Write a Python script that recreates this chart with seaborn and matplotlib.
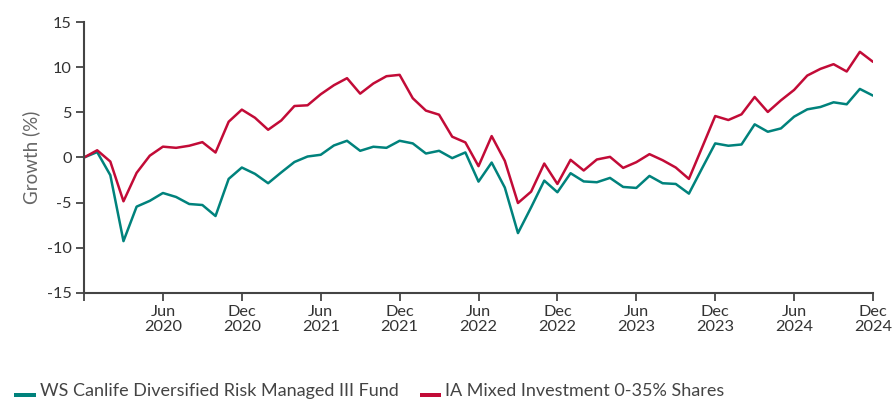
import matplotlib
matplotlib.use("Agg")
import matplotlib.pyplot as plt
import seaborn as sns
import pandas as pd
import numpy as np
from matplotlib.lines import Line2D
from matplotlib.patches import Rectangle
from matplotlib.legend_handler import HandlerBase

months = pd.date_range("2019-12-01", "2024-12-01", freq="MS")

fund_name = "WS Canlife Diversified Risk Managed III Fund"
sector_name = "IA Mixed Investment 0-35% Shares"

fund = [0, 0.6, -1.96, -9.26, -5.44, -4.8, -3.93, -4.37, -5.15, -5.26, -6.48, -2.37, -1.11,
        -1.81, -2.85, -1.65, -0.5, 0.11, 0.3, 1.33, 1.85, 0.74, 1.19, 1.07, 1.85,
        1.56, 0.44, 0.74, -0.07, 0.56, -2.67, -0.56, -3.33, -8.37, -5.52, -2.56, -3.85,
        -1.74, -2.65, -2.74, -2.26, -3.26, -3.37, -2.04, -2.85, -2.93, -4.0, -1.2, 1.56,
        1.3, 1.44, 3.67, 2.85, 3.22, 4.52, 5.33, 5.59, 6.11, 5.89, 7.59, 6.85]

sector = [0, 0.8, -0.45, -4.85, -1.7, 0.2, 1.2, 1.07, 1.3, 1.7, 0.55, 3.96, 5.3,
          4.4, 3.07, 4.1, 5.7, 5.78, 7.0, 8.0, 8.78, 7.07, 8.19, 9.0, 9.15,
          6.56, 5.19, 4.74, 2.3, 1.67, -0.96, 2.37, -0.37, -5.04, -3.78, -0.67, -2.93,
          -0.26, -1.44, -0.22, 0.07, -1.15, -0.52, 0.37, -0.3, -1.11, -2.37, 1.1, 4.59,
          4.15, 4.78, 6.7, 5.04, 6.33, 7.48, 9.07, 9.81, 10.33, 9.52, 11.7, 10.59]

tick_idx = [0, 6, 12, 18, 24, 30, 36, 42, 48, 54, 60]
tick_labels = ["", "Jun\n2020", "Dec\n2020", "Jun\n2021", "Dec\n2021", "Jun\n2022",
               "Dec\n2022", "Jun\n2023", "Dec\n2023", "Jun\n2024", "Dec\n2024"]
y_ticks = [-15, -10, -5, 0, 5, 10, 15]

colors = {fund_name: "#00827c", sector_name: "#c20b37"}

n = len(months)
df = pd.DataFrame({
    "m": list(range(n)) * 2,
    "value": fund + sector,
    "series": [fund_name] * n + [sector_name] * n,
})

sns.set_style("white")
plt.rcParams["font.family"] = ["Lato", "DejaVu Sans"]

fig = plt.figure(figsize=(8.92, 4.03), dpi=100)
ax = fig.add_axes([0.0942, 0.273, 0.8845, 0.6724])

sns.lineplot(data=df, x="m", y="value", hue="series", palette=colors, linewidth=1.8,
             legend=False, ax=ax)

ax.set_xlim(0, 60)
ax.set_ylim(-15, 15)
ax.set_xticks(tick_idx)
ax.set_xticklabels(tick_labels, fontsize=11.8, color="#333333", linespacing=1.05)
ax.set_yticks(y_ticks)
ax.set_yticklabels([str(v) for v in y_ticks], fontsize=11.8, color="#333333")
ax.set_xlabel("")
ax.set_ylabel("Growth (%)", fontsize=13.5, color="#666666", labelpad=5)

for s in ["top", "right"]:
    ax.spines[s].set_visible(False)
for s in ["left", "bottom"]:
    ax.spines[s].set_color("#444444")
    ax.spines[s].set_linewidth(1.5)
ax.tick_params(axis="both", which="both", direction="out", length=6, width=1.3,
               color="#444444", pad=3, bottom=True, left=True)


class LowSwatch(HandlerBase):
    def create_artists(self, legend, orig_handle, xdescent, ydescent, width, height,
                       fontsize, trans):
        r = Rectangle((-xdescent, -ydescent - 0.05 * height), width, 0.28 * height,
                      facecolor=orig_handle.get_color(), edgecolor="none", transform=trans)
        return [r]


handles = [Line2D([0], [0], color=colors[fund_name], lw=5),
           Line2D([0], [0], color=colors[sector_name], lw=5)]
fig.legend(handles, [fund_name, sector_name], loc="center left",
           bbox_to_anchor=(0.008, 0.03), borderaxespad=0, ncol=2, frameon=False,
           fontsize=13, handlelength=1.2, handletextpad=0.22, columnspacing=1.15,
           labelcolor="#444444", handler_map={Line2D: LowSwatch()})

fig.savefig("out.png", dpi=100)
